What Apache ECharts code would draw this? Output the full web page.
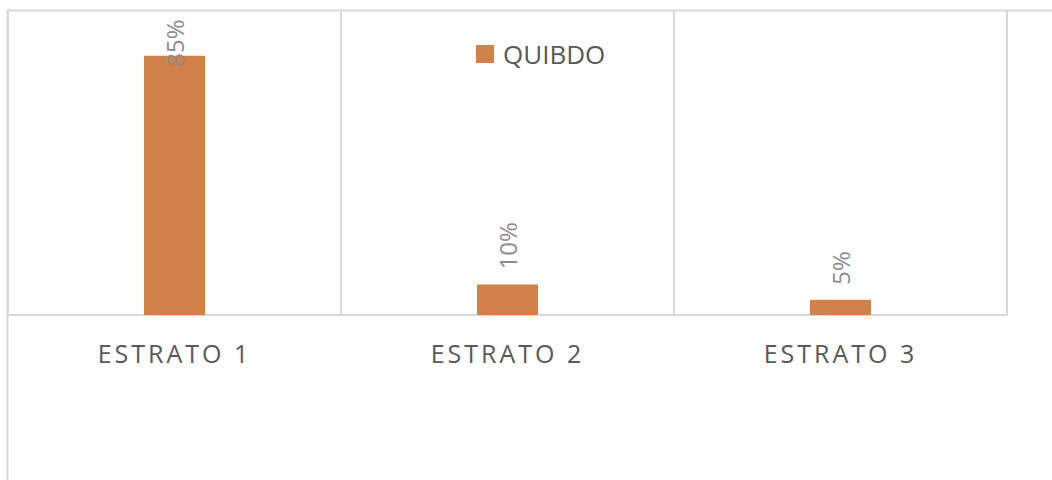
<!DOCTYPE html>
<html>
<head>
<meta charset="utf-8">
<script src="https://cdn.jsdelivr.net/npm/echarts@6/dist/echarts.min.js"></script>
<style>
  html, body { margin: 0; padding: 0; background: #fff; }
  #chart { width: 1052px; height: 480px; }
  /* category labels are letter-spaced in the original */
  #chart svg text[style*="Arial"] { letter-spacing: 3px; }
</style>
</head>
<body>
<div id="chart"></div>
<script>
var categories = ['ESTRATO 1', 'ESTRATO 2', 'ESTRATO 3'];
var seriesName = 'QUIBDO';
var values = [0.85, 0.10, 0.05];

var chart = echarts.init(document.getElementById('chart'), null, { renderer: 'svg' });
var lineColor = '#d9d9d9';

chart.setOption({
  animation: false,
  textStyle: { fontFamily: 'Open Sans' },
  grid: { left: 8, right: 45, top: 10, bottom: 165 },
  legend: {
    data: [seriesName],
    left: 471,
    top: 36,
    icon: 'rect',
    itemWidth: 18,
    itemHeight: 18,
    textStyle: { fontSize: 26, color: '#595959', fontFamily: 'Open Sans', padding: [0, 0, 0, 4] }
  },
  xAxis: {
    type: 'category',
    data: categories,
    axisLine: { lineStyle: { color: lineColor, width: 2 } },
    axisTick: { show: false },
    splitLine: { show: true, lineStyle: { color: lineColor, width: 2 } },
    axisLabel: { color: '#595959', fontSize: 25, margin: 25, fontFamily: "'Open Sans', Arial" }
  },
  yAxis: {
    type: 'value',
    min: 0,
    max: 1,
    show: false
  },
  graphic: [
    { type: 'line', shape: { x1: 7, y1: 10.5, x2: 1052, y2: 10.5 }, style: { stroke: lineColor, lineWidth: 2 }, silent: true },
    { type: 'line', shape: { x1: 7.5, y1: 10, x2: 7.5, y2: 480 }, style: { stroke: lineColor, lineWidth: 2 }, silent: true }
  ],
  series: [{
    name: seriesName,
    type: 'bar',
    barWidth: 61,
    itemStyle: { color: '#d3814a' },
    label: {
      show: true,
      position: 'top',
      rotate: 90,
      align: 'left',
      verticalAlign: 'middle',
      distance: 15,
      fontSize: 24,
      color: '#8c8c8c',
      fontFamily: 'Open Sans',
      formatter: function (p) { return Math.round(p.value * 100) + '%'; }
    },
    // tall bar: label pushed down inside the plot, like the original
    data: values.map(function (v) {
      return v > 0.8 ? { value: v, label: { distance: -11 } } : v;
    })
  }]
});
</script>
</body>
</html>
